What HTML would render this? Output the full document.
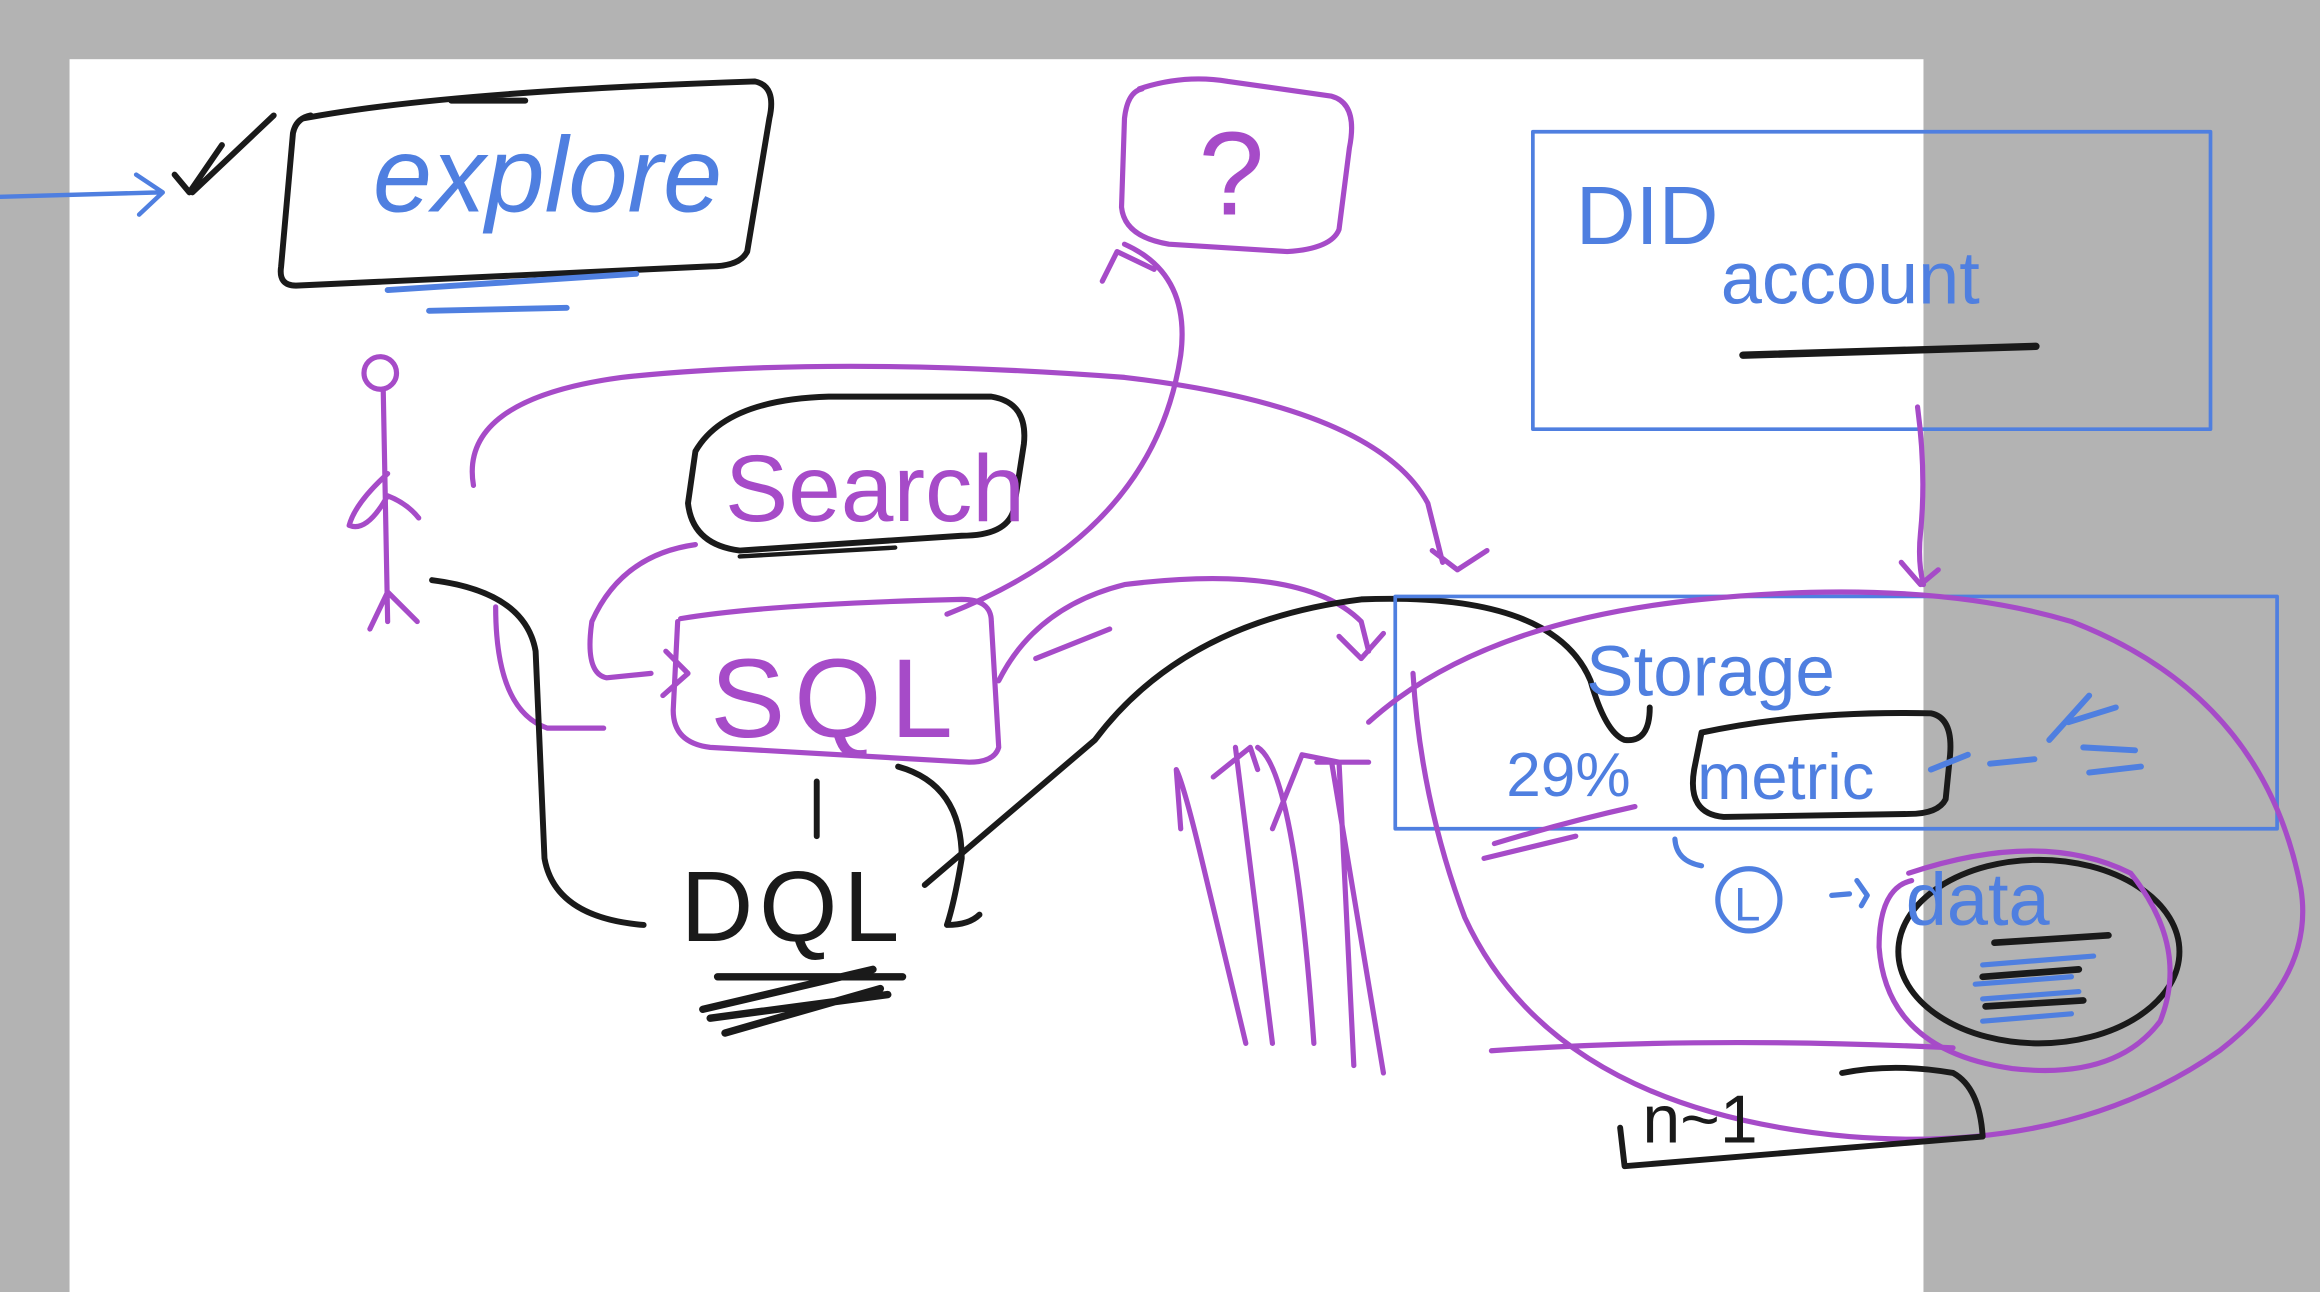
<!DOCTYPE html>
<html><head><meta charset="utf-8"><style>
html,body{margin:0;padding:0;background:#b3b3b3;}
svg{display:block;}
text{font-family:"Liberation Sans",sans-serif;}
</style></head><body>
<svg width="2320" height="1292" viewBox="0 0 1568 873" preserveAspectRatio="none" xmlns="http://www.w3.org/2000/svg">
<rect width="1568" height="873" fill="#b3b3b3"/>
<rect x="47" y="40" width="1253" height="833" fill="#fff"/>
<g fill="none" stroke-linecap="round" stroke-linejoin="round">
<!-- blue arrow left -->
<path d="M0 133 L108 130 M92 118 L110 130 L94 145" stroke="#4f7fe0" stroke-width="3"/>
<path d="M118 118 L128 130 L150 98 M130 130 L185 78" stroke="#1a1a1a" stroke-width="4"/>
<!-- explore box -->
<path d="M205 80 Q300 62 510 55 Q525 58 520 80 L505 170 Q500 180 480 180 L200 193 Q188 193 190 180 L198 90 Q200 80 210 78" stroke="#1a1a1a" stroke-width="4"/>
<path d="M305 68 L355 68" stroke="#1a1a1a" stroke-width="4"/>
<path d="M262 196 L430 185 M290 210 L383 208" stroke="#4f7fe0" stroke-width="4"/>
<!-- stick figure -->
<circle cx="257" cy="252" r="11" stroke="#a64bc8" stroke-width="3.5"/>
<path d="M259 263 L262 420 M262 320 Q240 340 236 355 Q248 360 262 335 Q275 340 283 350 M262 400 L250 425 M262 400 L282 420" stroke="#a64bc8" stroke-width="3.5"/>
<!-- big purple arc -->
<path d="M320 328 Q310 270 420 255 Q560 240 760 255 Q930 275 965 340 L975 380 M968 372 L985 385 L1005 372" stroke="#a64bc8" stroke-width="3.5"/>
<!-- question box -->
<path d="M770 60 Q800 50 830 55 L900 65 Q918 70 912 100 L905 155 Q900 168 870 170 L790 165 Q760 160 758 140 L760 80 Q762 62 772 60" stroke="#a64bc8" stroke-width="3.5"/>
<!-- search box -->
<path d="M470 305 Q490 270 560 268 L670 268 Q695 272 692 300 L685 345 Q680 362 650 362 L500 372 Q468 368 465 340 Z" stroke="#1a1a1a" stroke-width="4"/>
<path d="M500 376 L605 370" stroke="#1a1a1a" stroke-width="3"/>
<!-- SQL box -->
<path d="M460 418 Q520 408 650 405 Q670 405 670 420 L675 505 Q672 515 655 515 L480 505 Q455 502 455 480 L458 420" stroke="#a64bc8" stroke-width="3.5"/>
<path d="M470 368 Q420 375 400 420 Q395 455 410 458 L440 455 M450 440 L465 455 L448 470" stroke="#a64bc8" stroke-width="3.5"/>
<path d="M335 410 Q335 480 370 492 L408 492" stroke="#a64bc8" stroke-width="3.5"/>
<path d="M640 415 Q780 360 798 240 Q805 185 760 165 M745 190 L755 170 L780 182" stroke="#a64bc8" stroke-width="3.5"/>
<path d="M675 460 Q700 410 760 395 Q880 380 920 420 L925 440 M905 430 L920 445 L935 428" stroke="#a64bc8" stroke-width="3.5"/>
<path d="M700 445 L750 425" stroke="#a64bc8" stroke-width="3.5"/>
<!-- DQL connectors -->
<path d="M292 392 Q355 400 362 440 L368 580 Q375 620 435 625" stroke="#1a1a1a" stroke-width="4"/>
<path d="M552 528 L552 565" stroke="#1a1a1a" stroke-width="4"/>
<path d="M607 518 Q650 530 650 580 Q645 610 640 625 Q655 625 662 618" stroke="#1a1a1a" stroke-width="4"/>
<path d="M625 598 L740 500 Q800 420 920 405 Q1050 400 1075 460 Q1085 495 1098 500 Q1115 502 1115 478" stroke="#1a1a1a" stroke-width="4"/>
<path d="M485 660 L610 660 M475 682 L590 655 M490 698 L595 668 M480 688 L600 672" stroke="#1a1a1a" stroke-width="5"/>
<!-- DID account box -->
<rect x="1036" y="89" width="458" height="201" stroke="#4f7fe0" stroke-width="2.5"/>
<path d="M1178 240 L1376 234" stroke="#1a1a1a" stroke-width="5"/>
<path d="M1296 275 Q1302 320 1298 360 Q1296 380 1300 395 M1285 380 L1298 395 L1310 385" stroke="#a64bc8" stroke-width="3.5"/>
<!-- storage box -->
<rect x="943" y="403" width="596" height="157" stroke="#4f7fe0" stroke-width="2.5"/>
<path d="M925 488 Q1000 420 1150 405 Q1300 390 1400 420 Q1530 470 1555 600 Q1565 660 1500 710 Q1400 780 1250 768 Q1050 750 990 620 Q960 540 955 455" stroke="#a64bc8" stroke-width="3.5"/>
<path d="M1150 495 Q1220 480 1305 482 Q1320 485 1318 510 L1315 540 Q1310 550 1290 550 L1165 552 Q1140 550 1145 520 Z" stroke="#1a1a1a" stroke-width="4"/>
<path d="M1105 545 Q1060 555 1010 570 M1003 580 L1065 565" stroke="#a64bc8" stroke-width="3.5"/>
<path d="M1305 520 L1330 510 M1345 516 L1375 513 M1385 500 L1412 470 M1398 488 L1430 478 M1408 505 L1443 507 M1412 522 L1447 518" stroke="#4f7fe0" stroke-width="4"/>
<path d="M1132 567 Q1133 582 1150 585" stroke="#4f7fe0" stroke-width="3.5"/>
<circle cx="1182" cy="608" r="21" stroke="#4f7fe0" stroke-width="3.5"/>
<path d="M1238 605 L1250 604 M1255 595 L1262 605 L1258 612" stroke="#4f7fe0" stroke-width="3.5"/>
<ellipse cx="1378" cy="643" rx="95" ry="62" stroke="#1a1a1a" stroke-width="4"/>
<path d="M1290 590 Q1380 560 1440 590 Q1480 640 1460 690 Q1430 730 1360 722 Q1275 710 1270 640 Q1270 600 1292 595" stroke="#a64bc8" stroke-width="3.5"/>
<path d="M1340 652 L1415 646 M1340 675 L1405 670 M1335 665 L1400 660 M1340 690 L1400 685" stroke="#4f7fe0" stroke-width="3.5"/>
<path d="M1348 637 L1425 632 M1340 660 L1405 655 M1342 680 L1408 676" stroke="#1a1a1a" stroke-width="4.5"/>
<path d="M1008 710 Q1150 700 1320 708" stroke="#a64bc8" stroke-width="3.5"/>
<path d="M1095 762 L1098 788 L1340 768 Q1338 735 1320 725 Q1280 718 1245 725" stroke="#1a1a1a" stroke-width="4"/>
<!-- purple vertical strokes -->
<path d="M842 705 L812 580 Q800 530 795 520 L798 560 M835 505 L860 705 M850 505 Q875 520 888 705 M820 525 L845 505 L850 520 M860 560 L880 510 L905 515 L915 720 M900 515 L935 725 M890 515 L925 515" stroke="#a64bc8" stroke-width="3.5"/>
</g>
<g font-family="Liberation Sans, sans-serif">
<text x="252" y="143" font-size="72" fill="#4f7fe0" font-style="italic">explore</text>
<text x="810" y="145" font-size="80" fill="#a64bc8">?</text>
<text x="1065" y="165" font-size="56" fill="#4f7fe0">DID</text>
<text x="1163" y="205" font-size="50" fill="#4f7fe0">account</text>
<text x="490" y="352" font-size="64" fill="#a64bc8">Search</text>
<text x="480" y="498" font-size="76" fill="#a64bc8" letter-spacing="6">SQL</text>
<text x="460" y="636" font-size="68" fill="#1a1a1a" letter-spacing="4">DQL</text>
<text x="1072" y="470" font-size="48" fill="#4f7fe0">Storage</text>
<text x="1018" y="538" font-size="42" fill="#4f7fe0">29%</text>
<text x="1147" y="540" font-size="44" fill="#4f7fe0">metric</text>
<text x="1172" y="622" font-size="32" fill="#4f7fe0">L</text>
<text x="1288" y="625" font-size="50" fill="#4f7fe0">data</text>
<text x="1110" y="772" font-size="46" fill="#1a1a1a">n~1</text>
</g>
</svg>
</body></html>
